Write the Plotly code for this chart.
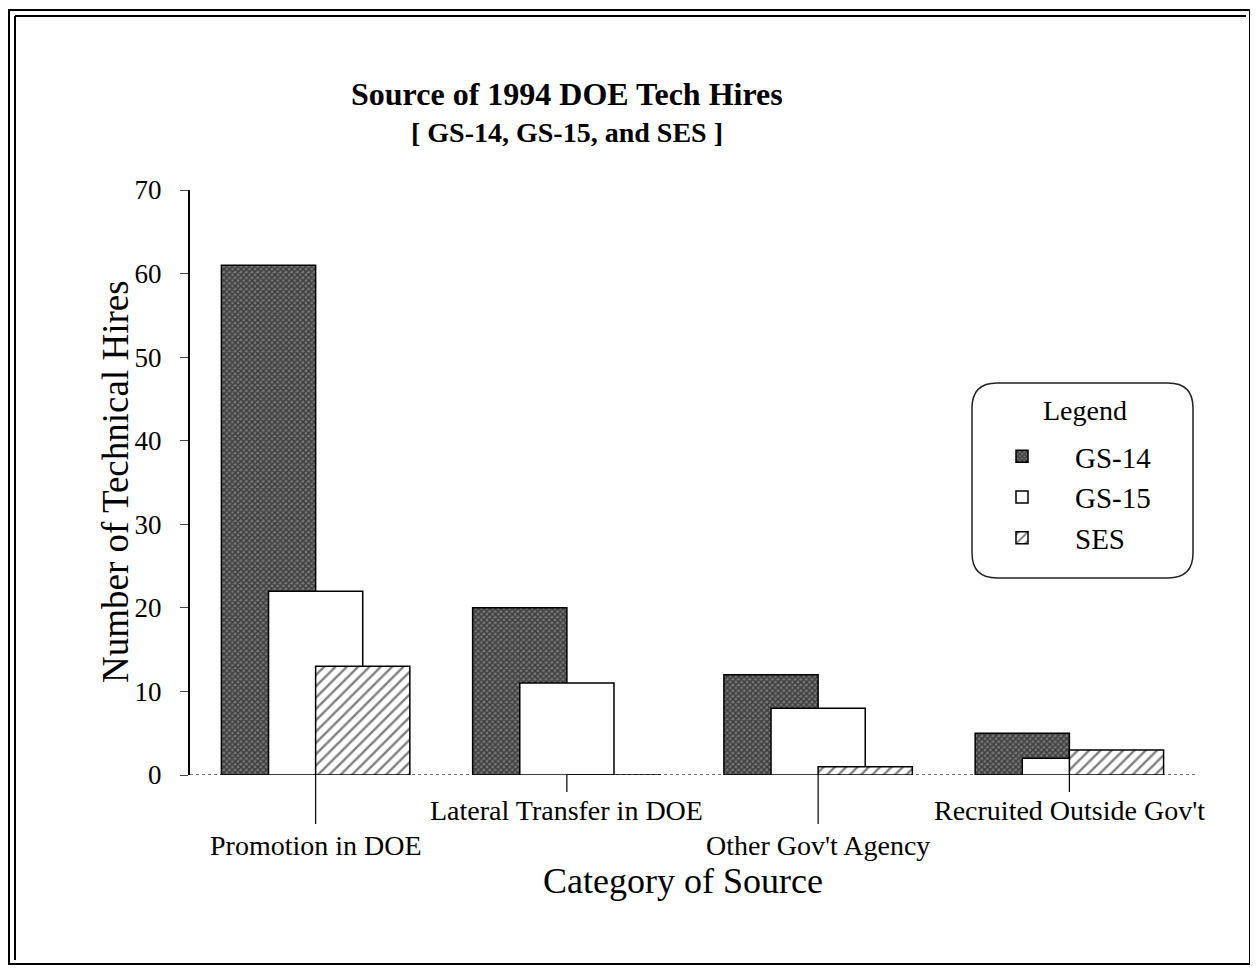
import plotly.graph_objects as go

# ---- data ----
categories = ["Promotion in DOE", "Lateral Transfer in DOE", "Other Gov't Agency", "Recruited Outside Gov't"]
gs14 = [61, 20, 12, 5]
gs15 = [22, 11, 8, 2]
ses = [13, 0, 1, 3]
series_names = ["GS-14", "GS-15", "SES"]
y_ticks = [0, 10, 20, 30, 40, 50, 60, 70]

# page has an 8px body margin; figure origin sits at page (8, 8)
OFF = 8
W, H = 1250, 960
PLOT_L, PLOT_R, PLOT_T, PLOT_B = 190, 1195, 190, 775   # page pixels of the plot area
L, T = PLOT_L - OFF, PLOT_T - OFF
R = W - (PLOT_R - OFF)
B = H - (PLOT_B - OFF)
PW, PH = W - L - R, H - T - B

def px_x(px):
    return (px - OFF - L) / PW

def px_y(py):
    return (H - B - (py - OFF)) / PH

SERIF = "Liberation Serif, Times New Roman, serif"

fig = go.Figure()

styles = [
    dict(marker=dict(color="white", line=dict(color="black", width=1.5),
                     pattern=dict(shape="x", fgcolor="black", bgcolor="#777", size=4, solidity=0.6)),
         offset=-0.375),
    dict(marker=dict(color="white", line=dict(color="black", width=1.5)),
         offset=-0.1875),
    dict(marker=dict(color="white", line=dict(color="black", width=1.5),
                     pattern=dict(shape="/", fgcolor="black", bgcolor="white", size=8, solidity=0.3)),
         offset=0.0),
]
for name, vals, st in zip(series_names, [gs14, gs15, ses], styles):
    fig.add_trace(go.Bar(x=categories, y=vals, name=name, width=0.375,
                         offset=st["offset"], marker=st["marker"],
                         legendgroup=name))

fig.update_layout(
    width=W, height=H,
    margin=dict(l=L, r=R, t=T, b=B),
    paper_bgcolor="white", plot_bgcolor="white",
    barmode="overlay",
    font=dict(family=SERIF, color="black", size=20),
    showlegend=True,
    legend=dict(
        x=px_x(969), y=px_y(431), xanchor="left", yanchor="top",
        bgcolor="rgba(0,0,0,0)", borderwidth=0,
        font=dict(family=SERIF, size=29, color="black"),
        tracegroupgap=0, itemwidth=96,
    ),
    xaxis=dict(type="category", categoryarray=categories, range=[-0.5, 3.5],
               showline=False, showgrid=False, zeroline=False,
               showticklabels=False, ticks=""),
    yaxis=dict(range=[0, 70], tickvals=y_ticks, showgrid=False, zeroline=False,
               showline=True, linecolor="black", linewidth=2,
               ticks="outside", ticklen=8, tickcolor="#444", tickwidth=1,
               ticklabelstandoff=13,
               tickfont=dict(family=SERIF, size=27)),
)

shapes = []
# dotted baseline
shapes.append(dict(type="line", xref="paper", yref="y", x0=0, x1=1, y0=0, y1=0,
                   line=dict(color="#444", width=1.5, dash="dot"), layer="below"))
# category ticks (long for the lower, staggered labels)
for i, c in enumerate(categories):
    end = 824 if i % 2 == 0 else 792
    shapes.append(dict(type="line", xref="x", yref="paper", x0=i, x1=i,
                       y0=0, y1=px_y(end), line=dict(color="black", width=1.2)))
# legend rounded box
x0, x1, y0, y1 = px_x(972), px_x(1193), px_y(578), px_y(383)
rx, ry = 25 / PW, 25 / PH
path = (f"M {x0+rx},{y1} L {x1-rx},{y1} Q {x1},{y1} {x1},{y1-ry} "
        f"L {x1},{y0+ry} Q {x1},{y0} {x1-rx},{y0} L {x0+rx},{y0} "
        f"Q {x0},{y0} {x0},{y0+ry} L {x0},{y1-ry} Q {x0},{y1} {x0+rx},{y1} Z")
shapes.append(dict(type="path", xref="paper", yref="paper", path=path,
                   line=dict(color="#222", width=1.5)))
# page frame (double on top/left)
shapes.append(dict(type="rect", xref="paper", yref="paper",
                   x0=px_x(9), x1=px_x(1250), y0=px_y(964), y1=px_y(10),
                   line=dict(color="black", width=2)))
shapes.append(dict(type="line", xref="paper", yref="paper",
                   x0=px_x(15), x1=px_x(1246), y0=px_y(16), y1=px_y(16),
                   line=dict(color="black", width=2)))
shapes.append(dict(type="line", xref="paper", yref="paper",
                   x0=px_x(15), x1=px_x(15), y0=px_y(16), y1=px_y(960),
                   line=dict(color="black", width=2)))
fig.update_layout(shapes=shapes)

ann = []
# staggered category labels
for i, c in enumerate(categories):
    ypx = 845 if i % 2 == 0 else 810
    ann.append(dict(x=c, xref="x", y=px_y(ypx), yref="paper", text=c, showarrow=False,
                    xanchor="center", yanchor="middle",
                    font=dict(family=SERIF, size=28, color="black")))
ann.append(dict(x=px_x(1085), y=px_y(410), xref="paper", yref="paper", showarrow=False,
                text="Legend", xanchor="center", yanchor="middle",
                font=dict(family=SERIF, size=28, color="black")))
ann.append(dict(x=px_x(567), y=px_y(94), xref="paper", yref="paper", showarrow=False,
                text="<b>Source of 1994 DOE Tech Hires</b>", xanchor="center", yanchor="middle",
                font=dict(family=SERIF, size=32, color="black")))
ann.append(dict(x=px_x(567), y=px_y(133), xref="paper", yref="paper", showarrow=False,
                text="<b>[ GS-14, GS-15, and SES ]</b>", xanchor="center", yanchor="middle",
                font=dict(family=SERIF, size=28, color="black")))
ann.append(dict(x=px_x(683), y=px_y(881), xref="paper", yref="paper", showarrow=False,
                text="Category of Source", xanchor="center", yanchor="middle",
                font=dict(family=SERIF, size=36, color="black")))
ann.append(dict(x=px_x(115), y=px_y(482), xref="paper", yref="paper", showarrow=False,
                text="Number of Technical Hires", textangle=-90, xanchor="center", yanchor="middle",
                font=dict(family=SERIF, size=37, color="black")))
fig.update_layout(annotations=ann)

fig.write_html("out.html")
